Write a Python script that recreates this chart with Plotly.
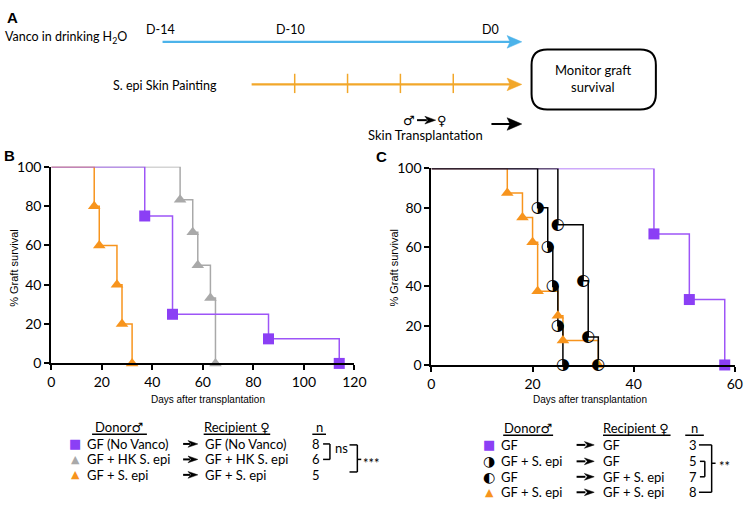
import plotly.graph_objects as go

# ---------------- data ----------------
# Panel B (days, % graft survival)
B_purple_t = [37, 48, 86, 114]
B_purple_s = [75, 25, 12.5, 0]
B_gray_t = [51, 56, 58, 63, 65]
B_gray_s = [83.3, 66.7, 50, 33.3, 0]
B_orange_t = [17, 19, 26, 28, 32]
B_orange_s = [80, 60, 40, 20, 0]

# Panel C
C_purple_t = [44, 51, 58]
C_purple_s = [66.7, 33.3, 0]
C_black5_t = [21, 23, 24, 25, 26]
C_black5_s = [80, 60, 40, 20, 0]
C_black7_t = [25, 30, 31, 33]
C_black7_s = [71.4, 42.9, 14.3, 0]
C_orange_t = [15, 18, 20, 21, 25, 26, 33]
C_orange_s = [87.5, 75, 62.5, 37.5, 25, 12.5, 0]

B_ticks_x = [0, 20, 40, 60, 80, 100, 120]
C_ticks_x = [0, 20, 40, 60]
ticks_y = [0, 20, 40, 60, 80, 100]

B_legend_donor = ["GF (No Vanco)", "GF + HK S. epi", "GF + S. epi"]
B_legend_recip = ["GF (No Vanco)", "GF + HK S. epi", "GF + S. epi"]
B_legend_n = ["8", "6", "5"]
C_legend_donor = ["GF", "GF + S. epi", "GF", "GF + S. epi"]
C_legend_recip = ["GF", "GF", "GF + S. epi", "GF + S. epi"]
C_legend_n = ["3", "5", "7", "8"]

# ---------------- style ----------------
W, H = 754, 508
PURPLE = "#8b3ff5"
PURPLE_L = "#9d55f7"
ORANGE = "#f7941d"
GRAY = "#a9a9a9"
BLUE = "#4cb3ea"
GOLD = "#f2a72a"
TXT = "Lato"
AX = "Liberation Sans"


def X(x):
    return x / W


def Y(y):
    return 1 - y / H


fig = go.Figure()


def step(t, s, color, xa, ya, width=1.5):
    fig.add_trace(go.Scatter(x=[0] + t, y=[100] + s, mode="lines", line_shape="hv",
                             line=dict(color=color, width=width), xaxis=xa, yaxis=ya,
                             cliponaxis=False, showlegend=False, hoverinfo="skip"))


def marks(t, s, color, symbol, size, xa, ya):
    fig.add_trace(go.Scatter(x=t, y=s, mode="markers",
                             marker=dict(symbol=symbol, size=size, color=color, line=dict(width=0)),
                             xaxis=xa, yaxis=ya, cliponaxis=False, showlegend=False))


def glyphs(t, s, glyph, xa, ya):
    fig.add_trace(go.Scatter(x=t, y=s, mode="text", text=[glyph] * len(t),
                             textposition="middle center",
                             textfont=dict(family="DejaVu Sans", size=16, color="black"),
                             xaxis=xa, yaxis=ya, cliponaxis=False, showlegend=False))


# Panel B
step(B_gray_t, B_gray_s, GRAY, "x", "y")
step(B_orange_t, B_orange_s, ORANGE, "x", "y")
step(B_purple_t, B_purple_s, PURPLE_L, "x", "y")
marks(B_purple_t, B_purple_s, PURPLE, "square", 11, "x", "y")
marks(B_gray_t, B_gray_s, GRAY, "triangle-up", 11, "x", "y")
marks(B_orange_t, B_orange_s, ORANGE, "triangle-up", 11, "x", "y")

# Panel C
step(C_orange_t, C_orange_s, ORANGE, "x2", "y2")
step(C_purple_t, C_purple_s, PURPLE_L, "x2", "y2")
step(C_black7_t, C_black7_s, "black", "x2", "y2")
step(C_black5_t, C_black5_s, "black", "x2", "y2")
marks(C_purple_t, C_purple_s, PURPLE, "square", 11, "x2", "y2")
marks(C_orange_t, C_orange_s, ORANGE, "triangle-up", 11, "x2", "y2")
glyphs(C_black5_t, C_black5_s, "\u25d1", "x2", "y2")
glyphs(C_black7_t, C_black7_s, "\u25d0", "x2", "y2")

axis_common = dict(showgrid=False, zeroline=False, showline=True, linewidth=2, linecolor="black",
                   ticks="outside", ticklen=5, tickwidth=1.5, tickcolor="black",
                   tickfont=dict(family=TXT, size=14, color="black"), fixedrange=True)

fig.update_layout(
    width=W, height=H, margin=dict(l=0, r=0, t=0, b=0),
    paper_bgcolor="white", plot_bgcolor="white", showlegend=False,
    xaxis=dict(domain=[X(48.3), X(358)], range=[0, 120], tickvals=B_ticks_x, anchor="y", **axis_common),
    yaxis=dict(domain=[Y(366.7), Y(163.3)], range=[0, 100], tickvals=ticks_y, anchor="x", **axis_common),
    xaxis2=dict(domain=[X(436.7), X(746.7)], range=[0, 60], tickvals=C_ticks_x, anchor="y2", **axis_common),
    yaxis2=dict(domain=[Y(368.3), Y(165)], range=[0, 100], tickvals=ticks_y, anchor="x2", **axis_common),
)

ann = []
shapes = []


def text(x, y, s, size=12, family=TXT, xanchor="center", color="black", bold=False, angle=0):
    if bold:
        s = "<b>" + s + "</b>"
    ann.append(dict(x=X(x), y=Y(y), xref="paper", yref="paper", text=s, showarrow=False,
                    xanchor=xanchor, yanchor="middle", textangle=angle, borderpad=0,
                    font=dict(family=family, size=size, color=color)))


def line(x0, y0, x1, y1, color="black", width=1.5):
    shapes.append(dict(type="line", xref="paper", yref="paper", x0=X(x0), y0=Y(y0), x1=X(x1), y1=Y(y1),
                       line=dict(color=color, width=width)))


def tri(xt, y, length, half, color):
    # arrowhead pointing right with tip at xt
    p = f"M {X(xt)} {Y(y)} L {X(xt-length)} {Y(y-half)} L {X(xt-length+3)} {Y(y)} L {X(xt-length)} {Y(y+half)} Z"
    shapes.append(dict(type="path", xref="paper", yref="paper", path=p,
                       fillcolor=color, line=dict(color=color, width=0.5)))


# ---------- Panel A ----------
text(9, 9, "A", size=15, family="Liberation Sans", bold=True)
text(0, 29, "Vanco in drinking H<sub>2</sub>O", size=12.5, xanchor="left")
text(160, 21, "D-14", size=12.5)
text(293, 21, "D-10", size=12.5)
text(497, 21, "D0", size=12.5)
line(162, 34, 520, 34, BLUE, 2.2)
tri(529, 34, 15, 6.5, BLUE)

text(165, 79, "S. epi Skin Painting", size=12.5)
line(253, 78, 520, 78, GOLD, 2.2)
tri(529, 78, 15, 6.5, GOLD)
for tx in [297, 351, 405, 459]:
    line(tx, 67, tx, 87, GOLD, 1.5)

# rounded box
x0, x1, y0, y1, r = 539, 666, 42, 104, 16
box = (f"M {X(x0+r)} {Y(y0)} L {X(x1-r)} {Y(y0)} Q {X(x1)} {Y(y0)} {X(x1)} {Y(y0+r)} "
       f"L {X(x1)} {Y(y1-r)} Q {X(x1)} {Y(y1)} {X(x1-r)} {Y(y1)} "
       f"L {X(x0+r)} {Y(y1)} Q {X(x0)} {Y(y1)} {X(x0)} {Y(y1-r)} "
       f"L {X(x0)} {Y(y0+r)} Q {X(x0)} {Y(y0)} {X(x0+r)} {Y(y0)} Z")
shapes.append(dict(type="path", xref="paper", yref="paper", path=box, line=dict(color="black", width=2)))
text(602, 63, "Monitor graft", size=13)
text(602, 81, "survival", size=13)

text(414, 115, "\u2642", size=13, family="DejaVu Sans")
line(422, 115, 432, 115, "black", 2)
tri(441, 115, 11, 4, "black")
text(448, 115, "\u2640", size=13, family="DejaVu Sans")
text(431, 130, "Skin Transplantation", size=13)
line(498, 119, 520, 119, "black", 2)
tri(529, 119, 15, 6.5, "black")

# ---------- Panel B / C labels ----------
text(6, 152, "B", size=15, family="Liberation Sans", bold=True)
text(386, 153, "C", size=15, family="Liberation Sans", bold=True)
text(208, 404, "Days after transplantation", size=10, family=AX)
text(599, 404, "Days after transplantation", size=10, family=AX)
text(10, 268, "% Graft survival", size=11, family=AX, angle=-90)
text(398, 268, "% Graft survival", size=11, family=AX, angle=-90)

# ---------- Legend B ----------
text(118, 432, "Donor<span style='font-family:DejaVu Sans'>\u2642</span>", size=13)
line(90, 440, 146, 440, "black", 1.5)
text(238, 432, "Recipient <span style='font-family:DejaVu Sans'>\u2640</span>", size=13)
line(204, 440, 272, 440, "black", 1.5)
text(322, 432, "n", size=13)
line(315, 440, 329, 440, "black", 1.5)
B_rows = [450, 466, 482]
B_sym = [("\u25a0", PURPLE, 13), ("\u25b2", GRAY, 11), ("\u25b2", ORANGE, 11)]
for i, yy in enumerate(B_rows):
    text(73, yy, B_sym[i][0], size=B_sym[i][2], family="DejaVu Sans", color=B_sym[i][1])
    text(84, yy, B_legend_donor[i], size=13, xanchor="left")
    line(183, yy, 190, yy, "black", 2)
    tri(198, yy, 10, 3.5, "black")
    text(204, yy, B_legend_recip[i], size=13, xanchor="left")
    text(319, yy, B_legend_n[i], size=13)
# ns bracket
line(326, 450, 333, 450); line(333, 450, 333, 466); line(326, 466, 333, 466)
text(337, 454, "ns", size=13, xanchor="left")
# *** bracket
line(353, 451, 361, 451); line(361, 451, 361, 479); line(353, 479, 361, 479)
line(361, 466, 365, 466)
text(366, 470, "***", size=13, xanchor="left")

# ---------- Legend C ----------
text(535, 433, "Donor<span style='font-family:DejaVu Sans'>\u2642</span>", size=13)
line(510, 441, 561, 441, "black", 1.5)
text(646, 433, "Recipient <span style='font-family:DejaVu Sans'>\u2640</span>", size=13)
line(612, 441, 681, 441, "black", 1.5)
text(705, 433, "n", size=13)
line(696, 441, 715, 441, "black", 1.5)
C_rows = [451, 468, 484, 500]
C_sym = [("\u25a0", PURPLE, 13), ("\u25d1", "black", 14),
         ("\u25d0", "black", 14), ("\u25b2", ORANGE, 11)]
for i, yy in enumerate(C_rows):
    text(496, yy, C_sym[i][0], size=C_sym[i][2], family="DejaVu Sans", color=C_sym[i][1])
    text(507, yy, C_legend_donor[i], size=13, xanchor="left")
    line(585, yy, 594, yy, "black", 2)
    tri(603, yy, 10, 3.5, "black")
    text(611, yy, C_legend_recip[i], size=13, xanchor="left")
    text(704, yy, C_legend_n[i], size=13)
line(710, 451, 723, 451); line(723, 451, 723, 500); line(710, 500, 723, 500)
line(711, 468, 716, 468); line(716, 468, 716, 484); line(711, 484, 716, 484)
line(723, 470, 727, 470)
text(729, 473, "**", size=13, xanchor="left")

fig.update_layout(annotations=ann, shapes=shapes)
fig.write_html("out.html", config={"displayModeBar": False})

# remove the default page margin so the figure sits at the window's top-left
with open("out.html", "r", encoding="utf-8") as f:
    html = f.read()
html = html.replace("<head>", "<head><style>html,body{margin:0;padding:0;overflow:hidden;}</style>", 1)
with open("out.html", "w", encoding="utf-8") as f:
    f.write(html)
